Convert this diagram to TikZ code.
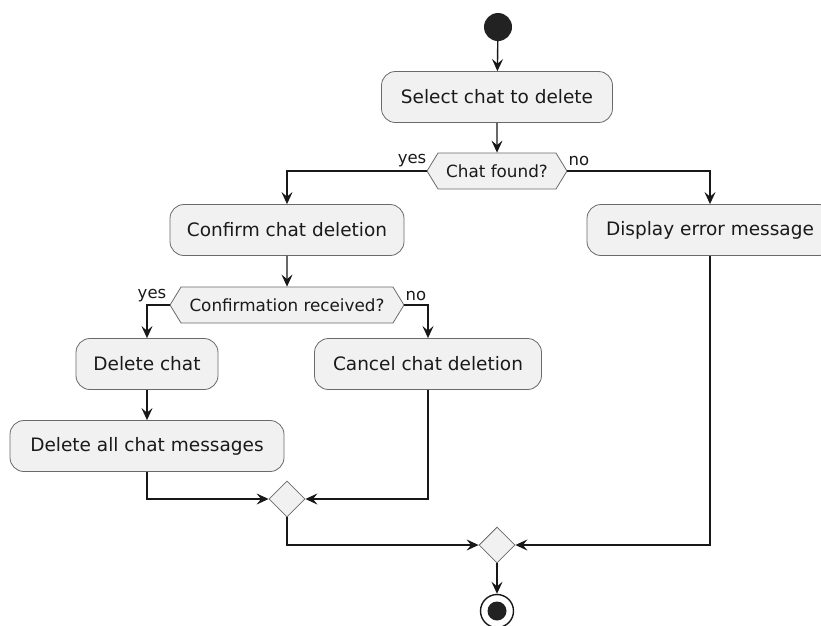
\documentclass[tikz,border=0pt]{standalone}
\usepackage{fontspec}
\setmainfont{DejaVu Sans}
\usetikzlibrary{arrows.meta,shapes.geometric,shapes.symbols}
\definecolor{boxfill}{HTML}{F1F1F1}
\definecolor{linec}{HTML}{181818}
\definecolor{boxborder}{HTML}{6A6A6A}
\definecolor{dotc}{HTML}{222222}
\definecolor{txt}{HTML}{1A1A1A}
\begin{document}
\begin{tikzpicture}[x=1pt,y=-1pt,
  act/.style={draw=boxborder, line width=0.8pt, fill=boxfill, rounded corners=14pt,
    minimum height=51pt, inner sep=0pt, text=txt, font=\fontsize{18.5}{21}\selectfont},
  hexa/.style={shape=signal, signal to=west and east, signal pointer angle=117,
    draw=boxborder, line width=0.8pt, fill=boxfill, minimum height=36pt, inner sep=0pt,
    text=txt, font=\fontsize{16.8}{19}\selectfont},
  merge/.style={shape=diamond, draw=boxborder, line width=0.8pt, fill=boxfill,
    minimum width=36pt, minimum height=36pt, inner sep=0pt},
  conn/.style={draw=linec, line width=1.4pt, -{Stealth[length=12pt,width=11pt,inset=4.5pt]}},
  lbl/.style={font=\fontsize{16.5}{18}\selectfont, inner sep=0pt, text=txt},
]
\useasboundingbox[fill=white] (0,0) rectangle (821,625);
\node[circle, fill=dotc, minimum size=28pt, inner sep=0pt] (start) at (498,27) {};
\node[act, minimum width=231pt] (sel) at (497,97) {Select chat to delete};
\node[hexa, minimum width=140pt] (d1) at (497,171) {Chat found?};
\node[act, minimum width=234pt] (conf) at (287,230) {Confirm chat deletion};
\node[act, minimum width=246pt] (err) at (710,230) {Display error message};
\node[hexa, minimum width=234pt] (d2) at (287,305) {Confirmation received?};
\node[act, minimum width=142pt] (del) at (147,364) {Delete chat};
\node[act, minimum width=227pt] (canc) at (428,364) {Cancel chat deletion};
\node[act, minimum width=274pt] (delall) at (147,446) {Delete all chat messages};
\node[merge] (m1) at (287,499) {};
\node[merge] (m2) at (497,545) {};
\node[circle, draw=linec, line width=1.4pt, fill=white, minimum size=33pt, inner sep=0pt] (end) at (497,611) {};
\node[circle, fill=dotc, minimum size=19pt, inner sep=0pt] at (end) {};

\draw[conn] (start) -- (sel);
\draw[conn] (sel) -- (d1);
\draw[conn] (d1.west) -| (conf.north);
\draw[conn] (d1.east) -| (err.north);
\draw[conn] (conf) -- (d2);
\draw[conn] (d2.west) -| (del.north);
\draw[conn] (d2.east) -| (canc.north);
\draw[conn] (del) -- (delall);
\draw[conn] (delall.south) |- (m1.west);
\draw[conn] (canc.south) |- (m1.east);
\draw[conn] (m1.south) |- (m2.west);
\draw[conn] (err.south) |- (m2.east);
\draw[conn] (m2) -- (end);

\node[lbl] at (412,161) {yes};
\node[lbl] at (579,161) {no};
\node[lbl] at (152,296) {yes};
\node[lbl] at (416,296) {no};
\end{tikzpicture}
\end{document}
